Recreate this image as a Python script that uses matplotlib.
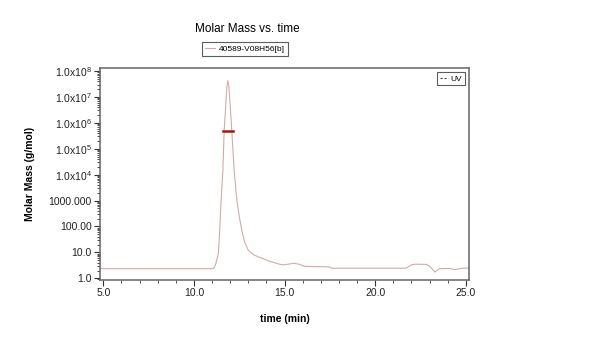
import matplotlib.pyplot as plt
from matplotlib.ticker import FixedLocator, LogLocator, MultipleLocator, NullFormatter

plt.rcParams["font.family"] = ["Liberation Sans", "DejaVu Sans"]
plt.rcParams["mathtext.default"] = "regular"

# elution time (min) and molar mass (g/mol) of the sample trace
time_min = [4.85, 11.0, 11.1, 11.2, 11.3, 11.35, 11.42, 11.5, 11.6, 11.67,
            11.75, 11.82, 11.87, 11.93, 12.0, 12.09, 12.22, 12.37, 12.5, 12.64,
            12.8, 13.0, 13.3, 13.74, 14.2, 14.66, 14.9, 15.2, 15.5, 15.8,
            16.1, 17.5, 17.6, 21.7, 22.0, 22.2, 22.8, 23.0, 23.3, 23.55,
            24.1, 24.4, 24.7, 25.18]
molar_mass = [2.35, 2.35, 2.5, 3.5, 6.5, 9.5, 60, 1.0e3, 1.5e4, 5.0e5,
              4.0e6, 2.5e7, 4.2e7, 2.5e7, 5.0e6, 5.0e5, 1.5e4, 1.0e3, 250, 72,
              25, 12, 8.0, 6.0, 4.5, 3.6, 3.3, 3.5, 3.8, 3.5,
              2.9, 2.75, 2.45, 2.45, 3.3, 3.5, 3.45, 3.0, 1.75, 2.35,
              2.4, 2.15, 2.4, 2.5]

# weight-average marker across the peak
avg_time = [11.63, 12.13]
avg_mass = [5.0e5, 5.0e5]

sample_name = "40589-V08H56[b]"
y_ticks = [1, 10, 100, 1000, 1e4, 1e5, 1e6, 1e7, 1e8]
y_tick_labels = ["1.0", "10.0", "100.00", "1000.000", "1.0x10$^{4}$",
                 "1.0x10$^{5}$", "1.0x10$^{6}$", "1.0x10$^{7}$", "1.0x10$^{8}$"]

fig = plt.figure(figsize=(6, 3.38), dpi=100)
ax = fig.add_axes([0.1667, 0.1716, 0.615, 0.627])

line, = ax.plot(time_min, molar_mass, color="#d2aaaa", lw=0.8, label=sample_name)
ax.plot(avg_time, avg_mass, color="#a31515", lw=1.8)
uv, = ax.plot([], [], color="#444444", lw=0.8, ls=(0, (2, 1.5)), label="UV")

ax.set_yscale("log")
ax.set_xlim(4.82, 25.18)
ax.set_ylim(0.86, 1.3e8)

ax.xaxis.set_major_locator(FixedLocator([5, 10, 15, 20, 25]))
ax.xaxis.set_minor_locator(MultipleLocator(1))
ax.set_xticklabels(["5.0", "10.0", "15.0", "20.0", "25.0"])
ax.yaxis.set_major_locator(FixedLocator(y_ticks))
ax.set_yticklabels(y_tick_labels)
ax.yaxis.set_minor_locator(LogLocator(base=10, subs=range(2, 10), numticks=20))
ax.yaxis.set_minor_formatter(NullFormatter())

ax.tick_params(axis="both", which="major", direction="out", length=4,
               width=0.8, color="#333333", labelsize=7.5, labelcolor="#222222", pad=2)
ax.tick_params(axis="both", which="minor", direction="out", length=2.5,
               width=0.6, color="#333333")
for s in ax.spines.values():
    s.set_color("#666666")
    s.set_linewidth(1.1)

ax.set_xlabel("time (min)", fontsize=7.5, fontweight="bold", labelpad=11)
ax.set_ylabel("Molar Mass (g/mol)", fontsize=7.5, fontweight="bold", labelpad=10)

fig.text(0.412, 0.914, "Molar Mass vs. time", ha="center", va="center", fontsize=8.5)

leg1 = fig.legend(handles=[line], loc="center", bbox_to_anchor=(0.408, 0.855),
                  fontsize=6, frameon=True, fancybox=False, handlelength=1.2,
                  handletextpad=0.5, borderpad=0.35, borderaxespad=0)
leg1.get_frame().set_edgecolor("#333333")
leg1.get_frame().set_linewidth(0.8)

leg2 = ax.legend(handles=[uv], loc="upper right", fontsize=6, frameon=True,
                 fancybox=False, handlelength=1.0, handletextpad=0.3,
                 borderpad=0.3, borderaxespad=0.5)
leg2.get_frame().set_edgecolor("#333333")
leg2.get_frame().set_linewidth(0.8)

fig.savefig("out.png", dpi=100)
